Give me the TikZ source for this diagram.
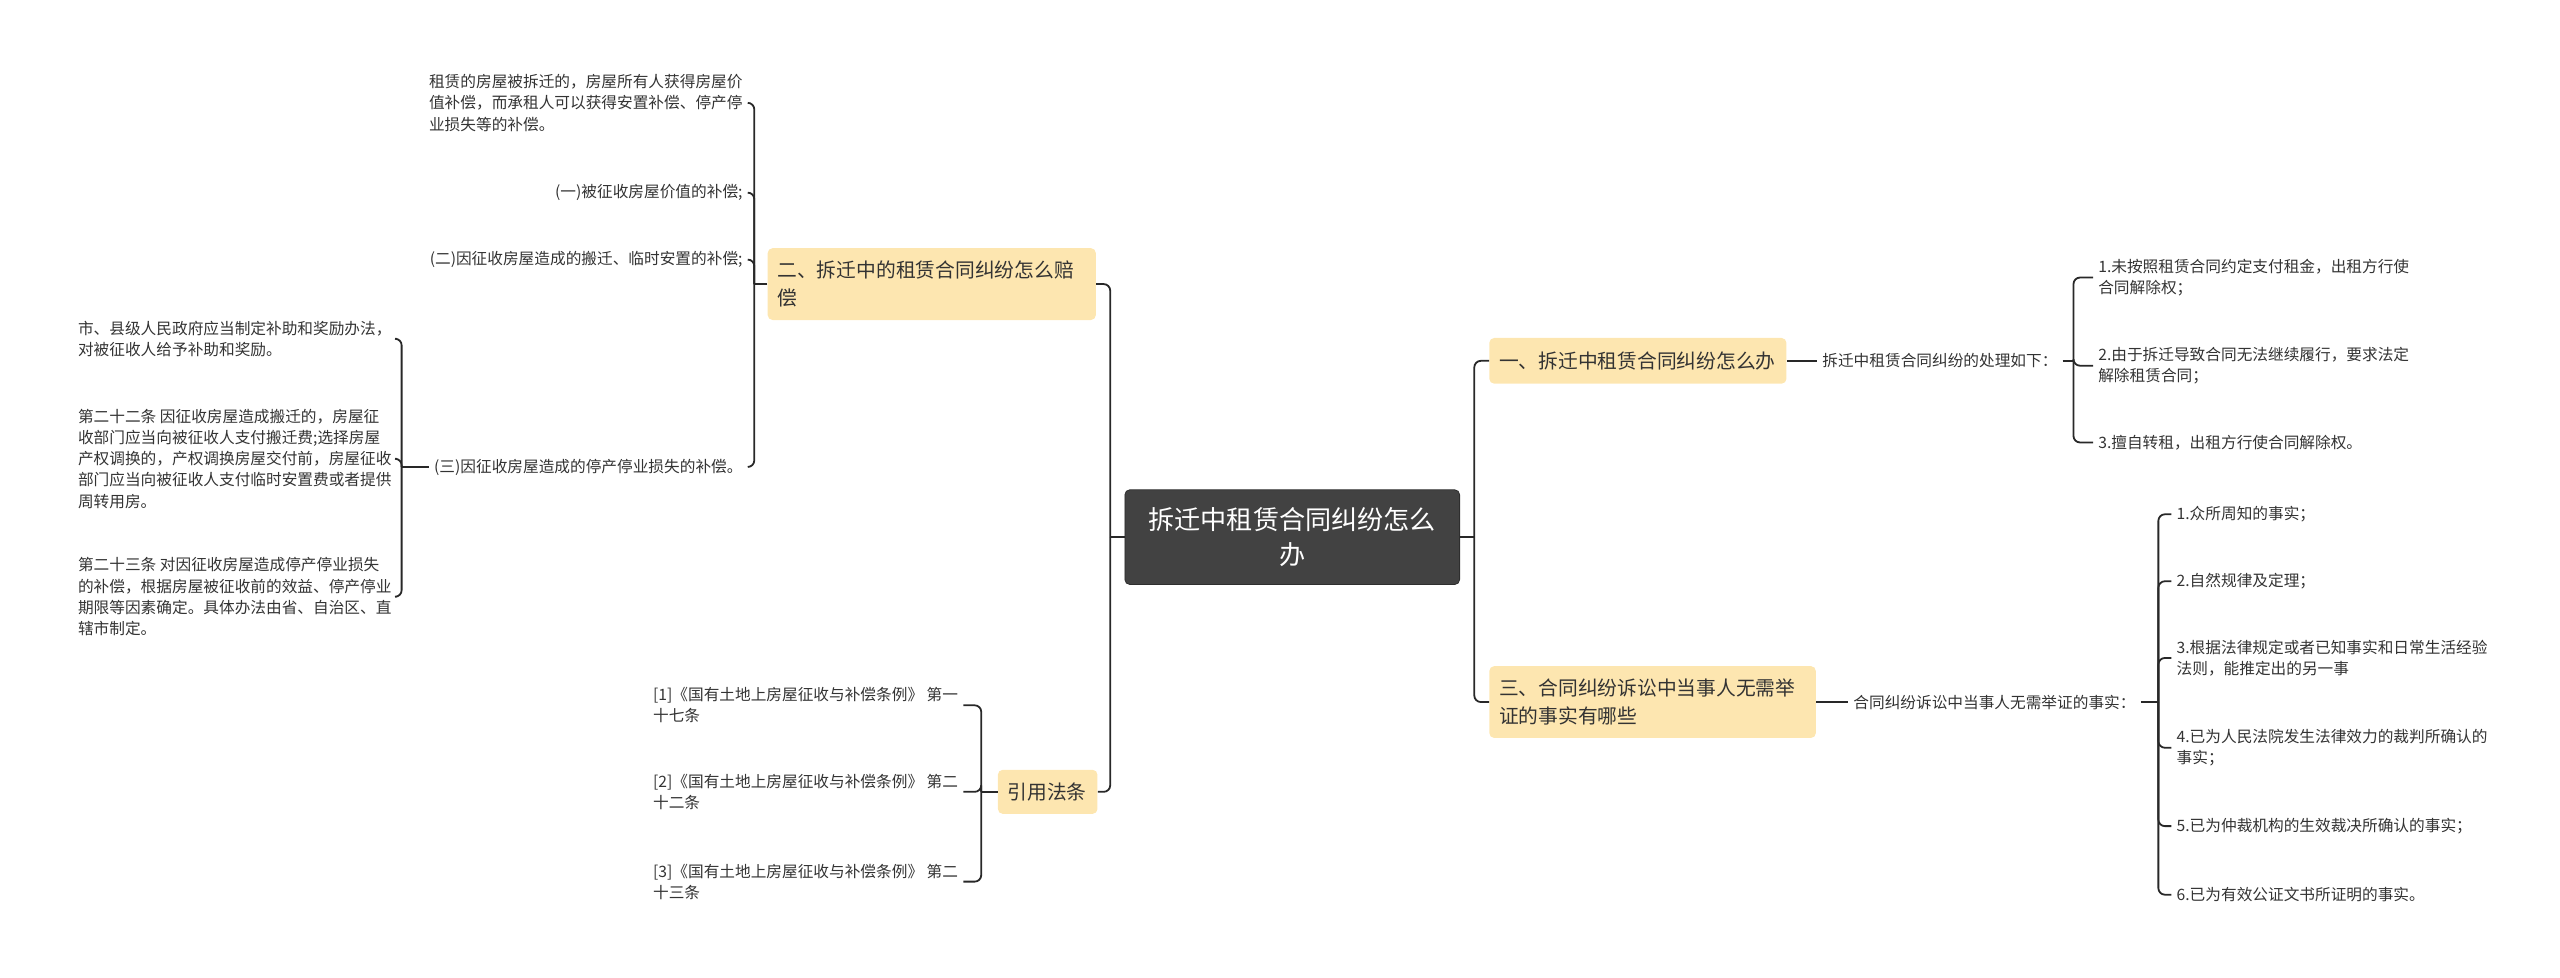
\documentclass[tikz,border=0pt]{standalone}
\usepackage{fontspec}
\setmainfont{Noto Sans CJK SC}
\usetikzlibrary{calc}
\definecolor{topicfill}{RGB}{253,230,176}
\definecolor{rootfill}{RGB}{66,66,66}
\definecolor{linec}{RGB}{40,40,40}
\definecolor{txt}{RGB}{51,51,51}
\tikzset{
 rootbox/.style={fill=rootfill, draw=rootfill!70!black, line width=0.5pt, rounded corners=3pt, text=white, font=\fontsize{16}{21}\selectfont, align=center, minimum width=205pt, minimum height=58pt, inner sep=0pt},
 topicbox/.style={fill=topicfill, rounded corners=3pt, text=txt, font=\fontsize{12.1}{17}\selectfont, align=left, inner xsep=6pt, inner ysep=0pt, anchor=west},
 leaf/.style={text=txt, font=\fontsize{9.6}{13}\selectfont, align=left, inner xsep=3pt, inner ysep=1pt},
 leafL/.style={leaf, anchor=east},
 leafR/.style={leaf, anchor=west},
 conn/.style={draw=linec, line width=1.1pt, rounded corners=4pt},
}
\begin{document}
\begin{tikzpicture}[x=1pt,y=-1pt]
\useasboundingbox (0,0) rectangle (1568,599);
% root
\node[rootbox] (root) at (791.5,329) {拆迁中租赁合同纠纷怎么\\办};
% topics
\node[topicbox, text width=189pt, minimum height=44pt] (n2) at (470,174) {二、拆迁中的租赁合同纠纷怎么赔\\偿};
\node[topicbox, text width=49pt, minimum height=27pt] (ny) at (611,485) {引用法条};
\node[topicbox, text width=170pt, minimum height=28pt] (n1) at (912,221) {一、拆迁中租赁合同纠纷怎么办};
\node[topicbox, text width=188pt, minimum height=44pt] (n3) at (912,430) {三、合同纠纷诉讼中当事人无需举\\证的事实有哪些};
% junctions
\coordinate (jL) at (680,329);
\coordinate (jR) at (903,329);
\coordinate (j2) at (462,174);
\coordinate (j3) at (246,286);
\coordinate (jy) at (601,485);
\coordinate (jd) at (1270,221);
\coordinate (je) at (1322,430);
% left leaves of n2
\node[leafL] (a1) at (458,63) {租赁的房屋被拆迁的，房屋所有人获得房屋价\\值补偿，而承租人可以获得安置补偿、停产停\\业损失等的补偿。};
\node[leafL] (a2) at (458,118) {(一)被征收房屋价值的补偿;};
\node[leafL] (a3) at (458,159) {(二)因征收房屋造成的搬迁、临时安置的补偿;};
\node[leafL] (a4) at (458,286) {(三)因征收房屋造成的停产停业损失的补偿。};
% leaves of a4
\node[leafL] (b1) at (243,207.5) {市、县级人民政府应当制定补助和奖励办法，\\对被征收人给予补助和奖励。};
\node[leafL] (b2) at (243,281) {第二十二条 因征收房屋造成搬迁的，房屋征\\收部门应当向被征收人支付搬迁费;选择房屋\\产权调换的，产权调换房屋交付前，房屋征收\\部门应当向被征收人支付临时安置费或者提供\\周转用房。};
\node[leafL] (b3) at (243,365.5) {第二十三条 对因征收房屋造成停产停业损失\\的补偿，根据房屋被征收前的效益、停产停业\\期限等因素确定。具体办法由省、自治区、直\\辖市制定。};
% leaves of ny
\node[leafL] (c1) at (590,432) {[1]《国有土地上房屋征收与补偿条例》 第一\\十七条};
\node[leafL] (c2) at (590,485) {[2]《国有土地上房屋征收与补偿条例》 第二\\十二条};
\node[leafL] (c3) at (590,540) {[3]《国有土地上房屋征收与补偿条例》 第二\\十三条};
% right side
\node[leafR] (d0) at (1113,221) {拆迁中租赁合同纠纷的处理如下：};
\node[leafR] (d1) at (1282,170) {1.未按照租赁合同约定支付租金，出租方行使\\合同解除权；};
\node[leafR] (d2) at (1282,224) {2.由于拆迁导致合同无法继续履行，要求法定\\解除租赁合同；};
\node[leafR] (d3) at (1282,271) {3.擅自转租，出租方行使合同解除权。};
\node[leafR] (e0) at (1132,430) {合同纠纷诉讼中当事人无需举证的事实：};
\node[leafR] (f1) at (1330,315) {1.众所周知的事实；};
\node[leafR] (f2) at (1330,356) {2.自然规律及定理；};
\node[leafR] (f3) at (1330,403) {3.根据法律规定或者已知事实和日常生活经验\\法则，能推定出的另一事};
\node[leafR] (f4) at (1330,458) {4.已为人民法院发生法律效力的裁判所确认的\\事实；};
\node[leafR] (f5) at (1330,506) {5.已为仲裁机构的生效裁决所确认的事实；};
\node[leafR] (f6) at (1330,548) {6.已为有效公证文书所证明的事实。};
% connectors
\draw[conn] (root.west) -- (jL);
\draw[conn] (jL) |- (n2.east);
\draw[conn] (jL) |- (ny.east);
\draw[conn] (root.east) -- (jR);
\draw[conn] (jR) |- (n1.west);
\draw[conn] (jR) |- (n3.west);
\draw[conn] (n2.west) -- (j2);
\foreach \t in {a1,a2,a3,a4} \draw[conn] (j2) |- (\t.east);
\draw[conn] (a4.west) -- (j3);
\foreach \t in {b1,b2,b3} \draw[conn] (j3) |- (\t.east);
\draw[conn] (ny.west) -- (jy);
\foreach \t in {c1,c2,c3} \draw[conn] (jy) |- (\t.east);
\draw[conn] (n1.east) -- (d0.west);
\draw[conn] (d0.east) -- (jd);
\foreach \t in {d1,d2,d3} \draw[conn] (jd) |- (\t.west);
\draw[conn] (n3.east) -- (e0.west);
\draw[conn] (e0.east) -- (je);
\foreach \t in {f1,f2,f3,f4,f5,f6} \draw[conn] (je) |- (\t.west);
\end{tikzpicture}
\end{document}
